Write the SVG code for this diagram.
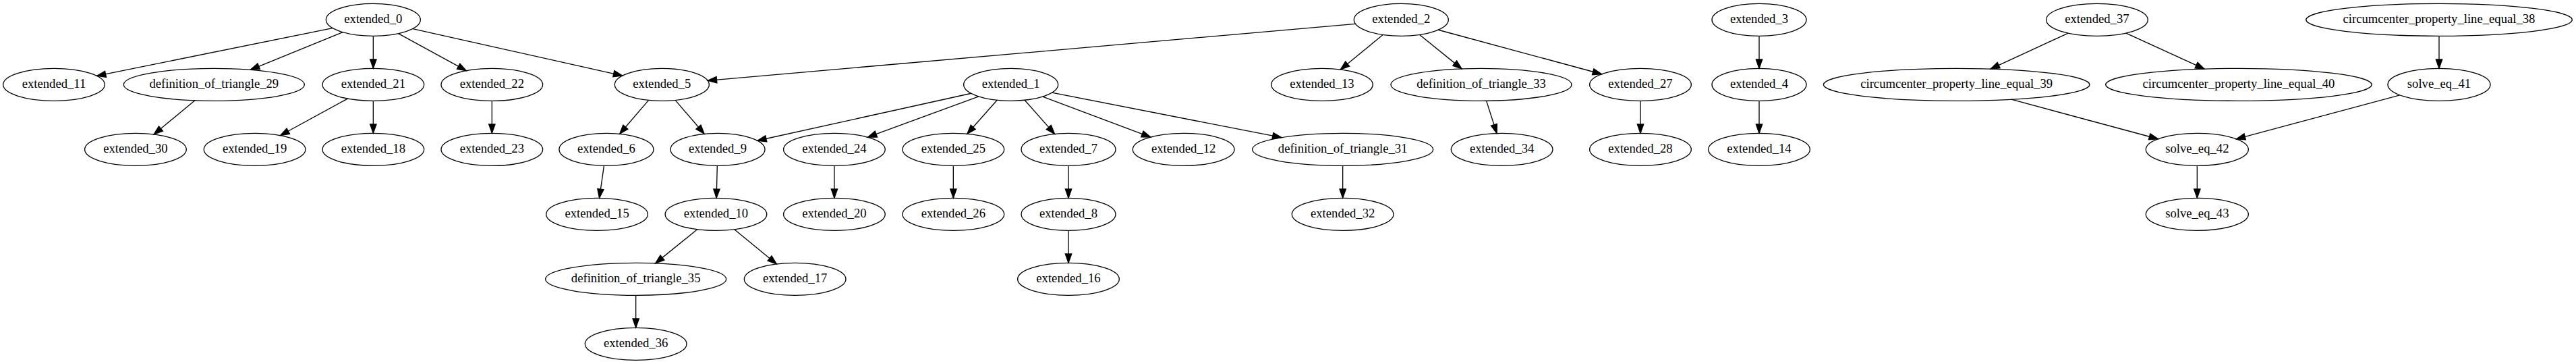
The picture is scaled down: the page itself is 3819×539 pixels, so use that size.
<svg xmlns="http://www.w3.org/2000/svg" width="3819" height="539" viewBox="0 0 3819 539">
<style>
.n ellipse{fill:none;stroke:#000;stroke-width:1}
.n text{font-family:"Liberation Serif","Times New Roman",serif;font-size:14px;text-anchor:middle;fill:#000}
#edges path{fill:none;stroke:#000;stroke-width:1;marker-end:url(#arr)}
</style>
<defs>
<marker id="arr" markerUnits="userSpaceOnUse" refX="10" refY="0" markerWidth="14" markerHeight="10" orient="auto" overflow="visible">
<path d="M0,-3.5 L10,0 L0,3.5 Z" fill="#000" stroke="#000" stroke-width="1"/>
</marker>
</defs>
<rect width="3819" height="539" fill="#fff"/>
<g transform="scale(1.33333)">
<g id="edges">
<path d="M369.8,31.2 L107.6,84.3"/>
<path d="M381.2,35.8 L278.5,77.5"/>
<path d="M415,40 L415,76"/>
<path d="M442.9,37.2 L518.5,78.5"/>
<path d="M458.9,31.9 L692.1,84.1"/>
<path d="M216.7,111.6 L171.1,149.2"/>
<path d="M386.5,109.6 L311.7,150.4"/>
<path d="M415,112 L415,148"/>
<path d="M547,112 L547,148"/>
<path d="M1507.1,26.5 L786.9,89.5"/>
<path d="M1537.7,38.6 L1490.5,77.2"/>
<path d="M1578.5,38.6 L1625.3,76.4"/>
<path d="M1599.2,33.2 L1780.9,82.3"/>
<path d="M721.2,111.3 L689,148.7"/>
<path d="M750.9,111.3 L783.1,148.7"/>
<path d="M671.6,184 L666.4,220"/>
<path d="M1079.9,103.7 L842.1,156.2"/>
<path d="M1088.2,107.1 L964.8,152.4"/>
<path d="M1108.7,111.2 L1075.4,148.7"/>
<path d="M1139.3,111.2 L1172.7,148.8"/>
<path d="M1159.4,107.3 L1279.4,152.3"/>
<path d="M1169.6,102.9 L1425,152.7"/>
<path d="M797.5,184 L796.6,220"/>
<path d="M775.4,254.7 L728.7,292.4"/>
<path d="M816.6,254.8 L863.5,293.2"/>
<path d="M707,328 L707,364"/>
<path d="M927.7,184 L927.7,220"/>
<path d="M1060,184 L1060,220"/>
<path d="M1188,184 L1188,220"/>
<path d="M1188,256 L1188,292"/>
<path d="M1493,184 L1493,220"/>
<path d="M1652.7,112 L1664.3,148.1"/>
<path d="M1824,112 L1824,148"/>
<path d="M1956,40 L1956,76"/>
<path d="M1956,112 L1956,148"/>
<path d="M2299.6,36.8 L2213.3,76.6"/>
<path d="M2364,36.8 L2451.1,76.6"/>
<path d="M2712,40 L2712,76"/>
<path d="M2236.4,110.4 L2399.6,154.3"/>
<path d="M2668.5,105.6 L2486.5,154.4"/>
<path d="M2443,184 L2443,220"/>
</g>
<g id="extended_0" class="n"><ellipse cx="415" cy="22" rx="52.5" ry="18"/><text x="415" y="25.7">extended_0</text></g>
<g id="extended_2" class="n"><ellipse cx="1558" cy="22" rx="52.5" ry="18"/><text x="1558" y="25.7">extended_2</text></g>
<g id="extended_3" class="n"><ellipse cx="1956" cy="22" rx="52.5" ry="18"/><text x="1956" y="25.7">extended_3</text></g>
<g id="extended_37" class="n"><ellipse cx="2331.7" cy="22" rx="56.5" ry="18"/><text x="2331.7" y="25.7">extended_37</text></g>
<g id="circumcenter_property_line_equal_38" class="n"><ellipse cx="2712" cy="22" rx="148" ry="18"/><text x="2712" y="25.7">circumcenter_property_line_equal_38</text></g>
<g id="extended_11" class="n"><ellipse cx="60" cy="94" rx="56.5" ry="18"/><text x="60" y="97.7">extended_11</text></g>
<g id="definition_of_triangle_29" class="n"><ellipse cx="238" cy="94" rx="100.5" ry="18"/><text x="238" y="97.7">definition_of_triangle_29</text></g>
<g id="extended_21" class="n"><ellipse cx="415" cy="94" rx="56.5" ry="18"/><text x="415" y="97.7">extended_21</text></g>
<g id="extended_22" class="n"><ellipse cx="547" cy="94" rx="56.5" ry="18"/><text x="547" y="97.7">extended_22</text></g>
<g id="extended_5" class="n"><ellipse cx="736" cy="94" rx="52.5" ry="18"/><text x="736" y="97.7">extended_5</text></g>
<g id="extended_1" class="n"><ellipse cx="1124" cy="94" rx="52.5" ry="18"/><text x="1124" y="97.7">extended_1</text></g>
<g id="extended_13" class="n"><ellipse cx="1470" cy="94" rx="56.5" ry="18"/><text x="1470" y="97.7">extended_13</text></g>
<g id="definition_of_triangle_33" class="n"><ellipse cx="1647" cy="94" rx="100.5" ry="18"/><text x="1647" y="97.7">definition_of_triangle_33</text></g>
<g id="extended_27" class="n"><ellipse cx="1824" cy="94" rx="56.5" ry="18"/><text x="1824" y="97.7">extended_27</text></g>
<g id="extended_4" class="n"><ellipse cx="1956" cy="94" rx="52.5" ry="18"/><text x="1956" y="97.7">extended_4</text></g>
<g id="circumcenter_property_line_equal_39" class="n"><ellipse cx="2175.5" cy="94" rx="148" ry="18"/><text x="2175.5" y="97.7">circumcenter_property_line_equal_39</text></g>
<g id="circumcenter_property_line_equal_40" class="n"><ellipse cx="2489.2" cy="94" rx="148" ry="18"/><text x="2489.2" y="97.7">circumcenter_property_line_equal_40</text></g>
<g id="solve_eq_41" class="n"><ellipse cx="2712" cy="94" rx="57" ry="18"/><text x="2712" y="97.7">solve_eq_41</text></g>
<g id="extended_30" class="n"><ellipse cx="150.7" cy="166" rx="56.5" ry="18"/><text x="150.7" y="169.7">extended_30</text></g>
<g id="extended_19" class="n"><ellipse cx="283.2" cy="166" rx="56.5" ry="18"/><text x="283.2" y="169.7">extended_19</text></g>
<g id="extended_18" class="n"><ellipse cx="415" cy="166" rx="56.5" ry="18"/><text x="415" y="169.7">extended_18</text></g>
<g id="extended_23" class="n"><ellipse cx="547" cy="166" rx="56.5" ry="18"/><text x="547" y="169.7">extended_23</text></g>
<g id="extended_6" class="n"><ellipse cx="674.2" cy="166" rx="52.5" ry="18"/><text x="674.2" y="169.7">extended_6</text></g>
<g id="extended_9" class="n"><ellipse cx="798" cy="166" rx="52.5" ry="18"/><text x="798" y="169.7">extended_9</text></g>
<g id="extended_24" class="n"><ellipse cx="927.7" cy="166" rx="56.5" ry="18"/><text x="927.7" y="169.7">extended_24</text></g>
<g id="extended_25" class="n"><ellipse cx="1060" cy="166" rx="56.5" ry="18"/><text x="1060" y="169.7">extended_25</text></g>
<g id="extended_7" class="n"><ellipse cx="1188" cy="166" rx="52.5" ry="18"/><text x="1188" y="169.7">extended_7</text></g>
<g id="extended_12" class="n"><ellipse cx="1316" cy="166" rx="56.5" ry="18"/><text x="1316" y="169.7">extended_12</text></g>
<g id="definition_of_triangle_31" class="n"><ellipse cx="1493" cy="166" rx="100.5" ry="18"/><text x="1493" y="169.7">definition_of_triangle_31</text></g>
<g id="extended_34" class="n"><ellipse cx="1670" cy="166" rx="56.5" ry="18"/><text x="1670" y="169.7">extended_34</text></g>
<g id="extended_28" class="n"><ellipse cx="1824" cy="166" rx="56.5" ry="18"/><text x="1824" y="169.7">extended_28</text></g>
<g id="extended_14" class="n"><ellipse cx="1956" cy="166" rx="56.5" ry="18"/><text x="1956" y="169.7">extended_14</text></g>
<g id="solve_eq_42" class="n"><ellipse cx="2443" cy="166" rx="57" ry="18"/><text x="2443" y="169.7">solve_eq_42</text></g>
<g id="extended_15" class="n"><ellipse cx="663.8" cy="238" rx="56.5" ry="18"/><text x="663.8" y="241.7">extended_15</text></g>
<g id="extended_10" class="n"><ellipse cx="796.1" cy="238" rx="56.5" ry="18"/><text x="796.1" y="241.7">extended_10</text></g>
<g id="extended_20" class="n"><ellipse cx="927.7" cy="238" rx="56.5" ry="18"/><text x="927.7" y="241.7">extended_20</text></g>
<g id="extended_26" class="n"><ellipse cx="1060" cy="238" rx="56.5" ry="18"/><text x="1060" y="241.7">extended_26</text></g>
<g id="extended_8" class="n"><ellipse cx="1188" cy="238" rx="52.5" ry="18"/><text x="1188" y="241.7">extended_8</text></g>
<g id="extended_32" class="n"><ellipse cx="1493" cy="238" rx="56.5" ry="18"/><text x="1493" y="241.7">extended_32</text></g>
<g id="solve_eq_43" class="n"><ellipse cx="2443" cy="238" rx="57" ry="18"/><text x="2443" y="241.7">solve_eq_43</text></g>
<g id="definition_of_triangle_35" class="n"><ellipse cx="707" cy="310" rx="100.5" ry="18"/><text x="707" y="313.7">definition_of_triangle_35</text></g>
<g id="extended_17" class="n"><ellipse cx="884" cy="310" rx="56.5" ry="18"/><text x="884" y="313.7">extended_17</text></g>
<g id="extended_16" class="n"><ellipse cx="1188" cy="310" rx="56.5" ry="18"/><text x="1188" y="313.7">extended_16</text></g>
<g id="extended_36" class="n"><ellipse cx="707" cy="382" rx="56.5" ry="18"/><text x="707" y="385.7">extended_36</text></g>
</g>
</svg>
